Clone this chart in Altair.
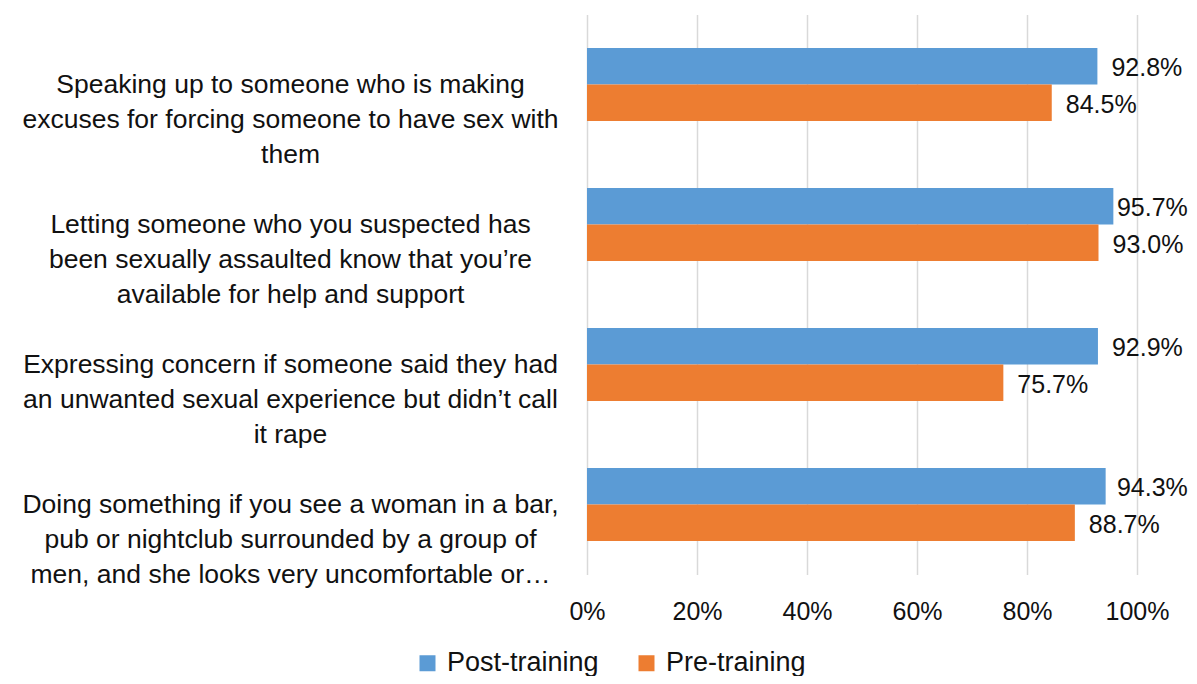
import altair as alt
import pandas as pd

# ---- data ----
category_lines = [
    ["Speaking up to someone who is making", "excuses for forcing someone to have sex with", "them"],
    ["Letting someone who you suspected has", "been sexually assaulted know that you\u2019re", "available for help and support"],
    ["Expressing concern if someone said they had", "an unwanted sexual experience but didn\u2019t call", "it rape"],
    ["Doing something if you see a woman in a bar,", "pub or nightclub surrounded by a group of", "men, and she looks very uncomfortable or\u2026"],
]
series_names = ["Post-training", "Pre-training"]
post_values = [0.928, 0.957, 0.929, 0.943]
pre_values = [0.845, 0.930, 0.757, 0.887]
x_ticks = [0, 0.2, 0.4, 0.6, 0.8, 1.0]
colors = ["#5B9BD5", "#ED7D31"]

categories = ["|".join(lines) for lines in category_lines]
rows = []
for cat, v in zip(categories, post_values):
    rows.append({"category": cat, "series": series_names[0], "value": v})
for cat, v in zip(categories, pre_values):
    rows.append({"category": cat, "series": series_names[1], "value": v})
df = pd.DataFrame(rows)

FONT = "Liberation Sans"
TXT = "#111111"

y_enc = alt.Y(
    "category:N",
    sort=categories,
    scale=alt.Scale(paddingInner=0.48, paddingOuter=0.24),
    axis=alt.Axis(
        title=None,
        domain=False,
        ticks=False,
        grid=False,
        labelExpr="split(datum.label, '|')",
        labelAlign="center",
        labelBaseline="middle",
        labelPadding=297,
        labelLineHeight=35,
        labelFontSize=26.5,
        labelColor=TXT,
        labelFont=FONT,
        labelLimit=0,
    ),
)
yoff_enc = alt.YOffset("series:N", sort=series_names, scale=alt.Scale(paddingInner=0, paddingOuter=0))

x_enc = alt.X(
    "value:Q",
    scale=alt.Scale(domain=[0, 1], nice=False),
    axis=alt.Axis(
        title=None,
        values=x_ticks,
        format=".0%",
        domain=False,
        ticks=False,
        grid=True,
        gridColor="#D9D9D9",
        gridWidth=1.5,
        labelPadding=25,
        labelFontSize=25,
        labelColor=TXT,
        labelFont=FONT,
        labelFlush=False,
    ),
)

bars = alt.Chart(df).mark_bar().encode(
    x=x_enc,
    y=y_enc,
    yOffset=yoff_enc,
    color=alt.Color(
        "series:N",
        sort=series_names,
        scale=alt.Scale(domain=series_names, range=colors),
        legend=alt.Legend(
            title=None,
            orient="none",
            direction="horizontal",
            legendX=-173,
            legendY=635,
            symbolType="square",
            symbolSize=256,
            symbolStrokeWidth=0,
            labelFontSize=27,
            labelFont=FONT,
            labelColor=TXT,
            labelOffset=6,
            columnPadding=34,
            padding=0,
        ),
    ),
)

# labels sit just outside the bar end, kept inside the chart area like the original
labels = alt.Chart(df).transform_calculate(
    label_x="min(datum.value, 0.938)"
).mark_text(
    align="left", baseline="middle", dx=14, dy=2, fontSize=25, font=FONT, color=TXT
).encode(
    x=alt.X("label_x:Q"),
    y=alt.Y("category:N", sort=categories),
    yOffset=alt.YOffset("series:N", sort=series_names),
    text=alt.Text("value:Q", format=".1%"),
)

chart = (
    alt.layer(bars, labels)
    .properties(
        width=550,
        height=560,
        autosize=alt.AutoSizeParams(type="none"),
        padding={"left": 579, "top": 6.5, "right": 52, "bottom": 101.5},
    )
    .configure(font=FONT)
    .configure_view(stroke="transparent", strokeWidth=0)
)

chart.save("out.html", embed_options={"renderer": "svg", "actions": False})
